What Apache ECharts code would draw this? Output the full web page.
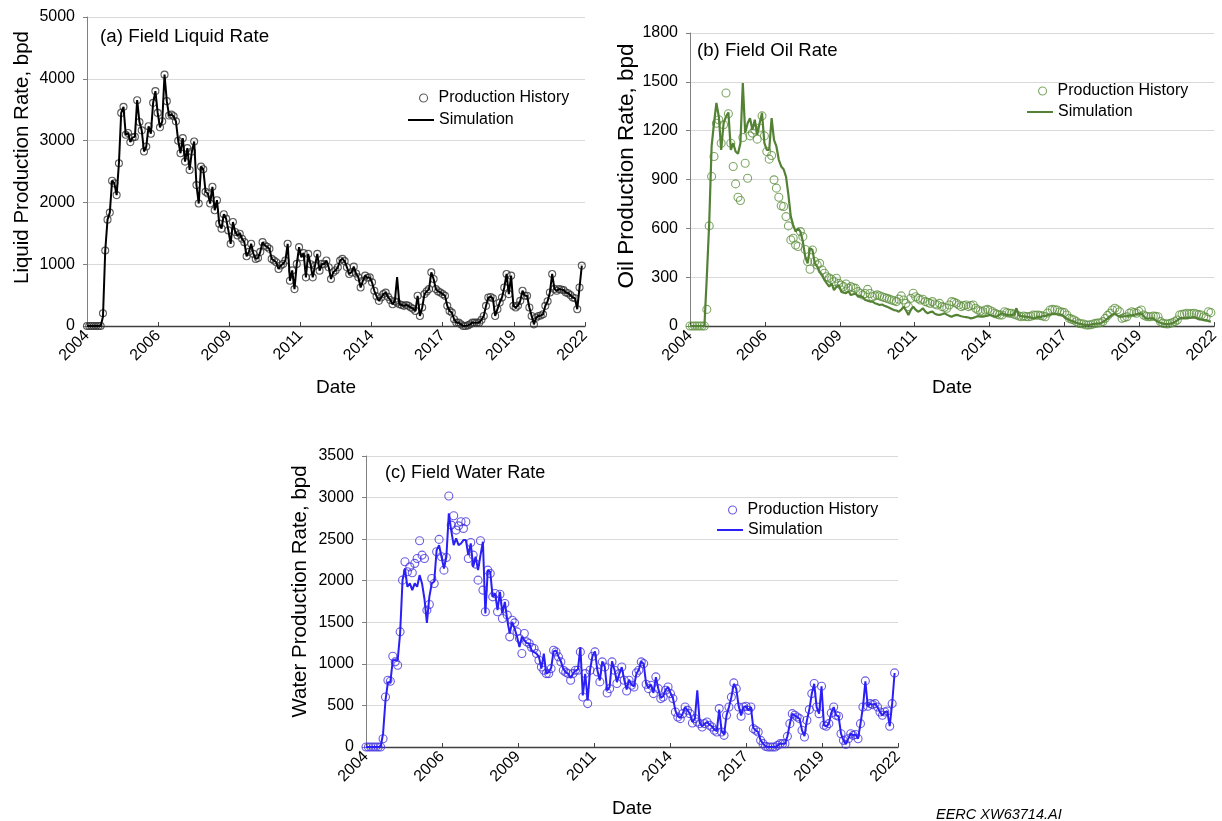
<!DOCTYPE html>
<html><head><meta charset="utf-8">
<script src="https://cdn.jsdelivr.net/npm/echarts@6/dist/echarts.min.js"></script>
<style>html,body{margin:0;padding:0;background:#fff}#c{width:1222px;height:821px}</style>
</head><body><div id="c"></div>
<script>
// ---------- DATA (monthly, month 0 = Jan 2004) ----------
const xTickLabels = ['2004','2006','2009','2011','2014','2017','2019','2022'];
const monthsPerTick = 31.2;

const liquidHistory = [0,0,0,0,0,0,0,
206,1222,1721,1835,2351,2308,2118,2634,3448,3546,
3095,3122,2976,3052,3060,3654,3301,3166,2824,2905,
3231,3111,3611,3801,3448,3215,3312,4067,3638,3405,
3420,3394,3312,2997,2796,3040,2660,2878,2525,2824,
2986,2280,1982,2579,2536,2172,2145,1982,2253,1873,
2036,1656,1575,1808,1738,1547,1330,1683,1520,1466,
1493,1412,1357,1129,1200,1330,1167,1086,1100,1200,
1357,1303,1280,1249,1086,1060,1032,923,980,1005,
1059,1330,733,900,597,1005,1276,1113,1180,787,
1167,1000,787,977,1167,896,1005,1000,1059,950,
760,869,900,950,1059,1086,1050,950,842,869,
961,850,787,624,733,815,780,787,706,570,
480,407,462,516,540,472,420,353,400,380,
353,340,326,340,326,300,280,244,489,163,
300,516,560,597,869,760,597,560,543,516,
489,326,244,217,109,54,54,27,0,0,
10,27,54,54,54,54,100,163,326,462,
470,450,163,272,380,462,624,842,516,815,
326,299,330,407,570,489,489,300,163,27,
136,163,170,190,326,400,543,842,600,570,
597,590,580,543,530,500,462,450,272,624,
977];

const liquidSimulation = [0,0,0,0,0,0,0,
150,1222,1721,1835,2351,2308,2118,2634,3448,3546,
3095,3122,2976,3052,3060,3654,3301,3166,2824,2905,
3231,3111,3611,3801,3448,3215,3312,4067,3638,3405,
3420,3394,3312,2997,2796,3040,2660,2878,2525,2824,
2986,2280,1982,2579,2536,2172,2145,1982,2253,1873,
2036,1656,1575,1808,1738,1547,1330,1683,1520,1466,
1493,1412,1357,1129,1200,1330,1167,1086,1100,1200,
1357,1303,1280,1249,1086,1060,1032,923,980,1005,
1059,1330,733,900,597,1005,1276,1113,1180,787,
1167,1000,787,977,1167,896,1005,1000,1059,950,
760,869,900,950,1059,1086,1050,950,842,869,
961,850,787,624,733,815,780,787,706,570,
480,407,462,516,540,472,420,353,400,790,
353,340,326,340,326,300,280,244,489,163,
300,516,560,597,869,760,597,560,543,516,
489,326,244,217,109,54,54,27,0,0,
10,27,54,54,54,54,100,163,326,462,
470,450,163,272,380,462,624,842,516,815,
326,299,330,407,570,489,489,300,163,27,
136,163,170,190,326,400,543,842,600,570,
597,590,580,543,530,500,462,450,272,624,
977];

const oilHistory = [0,0,0,0,0,0,0,
102,615,918,1041,1246,1267,1123,1236,1431,1304,
1123,980,873,791,771,1158,1000,908,1168,1185,
1205,1148,1216,1291,1168,1072,1025,1047,898,847,
791,738,734,672,615,529,539,498,488,580,
549,470,396,349,467,396,375,385,344,324,
303,295,287,272,293,262,250,242,258,231,
242,235,231,211,200,190,200,225,200,180,
185,191,185,180,175,170,165,160,155,150,
165,185,160,139,119,170,201,180,170,160,
164,150,145,139,150,135,129,139,119,115,
109,129,150,145,139,129,119,125,129,119,
125,129,109,98,92,88,98,102,95,88,
78,72,68,68,88,82,78,78,72,68,
61,57,61,58,57,60,68,66,68,64,
61,57,80,98,102,100,98,88,85,82,
68,47,42,37,27,16,14,12,6,6,
8,12,16,18,20,27,47,65,78,98,
109,100,88,47,52,57,78,88,82,78,
90,98,68,60,57,57,61,59,57,27,
16,14,12,16,20,27,37,68,72,74,
78,74,76,78,74,70,68,57,53,88,
82];

const oilSimulation = [0,0,0,0,0,0,0,
300,631,1103,1246,1370,1287,1082,1246,1287,1312,
1082,1123,1072,1058,1123,1492,1185,1246,1277,1205,
1267,1175,1246,1308,1123,1082,1082,1277,1144,1103,
1021,980,963,918,806,672,620,580,600,580,
520,426,385,478,467,385,365,334,314,283,
262,242,262,221,240,252,211,205,201,215,
190,195,200,180,185,175,160,156,150,150,
140,135,129,132,125,119,112,105,98,95,
88,100,119,95,68,100,119,100,88,95,
109,90,78,85,88,75,70,68,72,78,
70,62,57,64,68,65,60,57,55,52,
47,50,55,61,58,57,60,64,68,62,
57,60,70,78,72,68,65,68,70,109,
65,61,59,57,55,52,47,50,57,55,
60,62,68,70,72,74,72,70,68,55,
45,37,32,27,20,15,12,8,6,6,
8,12,14,15,16,25,35,47,60,70,
74,65,57,58,60,61,64,66,68,72,
76,78,60,47,46,47,47,35,25,20,
15,12,12,14,18,25,35,47,48,47,
47,50,52,53,48,41,40,38,37,30,
27];

const waterHistory = [0,0,0,0,0,0,0,
100,602,803,791,1092,1024,983,1385,2007,2228,
2107,2167,2095,2208,2268,2481,2308,2268,1646,1714,
2027,1967,2348,2497,2288,2127,2280,3019,2669,2782,
2609,2660,2709,2629,2709,2268,2460,2308,2200,2007,
2481,1887,1626,2127,2087,1806,1846,1626,1838,1545,
1726,1586,1325,1525,1493,1385,1305,1124,1365,1264,
1244,1196,1184,1124,1044,963,923,883,883,943,
1164,1144,1084,1024,923,900,883,803,883,923,
923,1144,602,883,522,923,1092,1144,903,783,
1024,963,650,702,1024,923,763,883,963,803,
674,803,742,722,891,923,1024,1003,755,702,
742,642,843,702,582,602,682,722,642,582,
421,361,341,401,482,441,401,289,341,301,
281,241,281,301,261,241,201,181,462,181,
140,381,482,600,771,702,482,369,482,490,
441,482,221,201,181,80,40,8,0,0,
0,0,20,40,40,40,128,281,401,381,
360,341,201,120,321,450,642,763,482,401,
731,261,249,281,409,482,381,369,160,80,
32,100,160,140,150,100,281,482,795,490,
522,510,522,482,421,381,421,433,249,522,
891];

const waterSimulation = [0,0,0,0,0,0,0,
160,562,780,780,1044,1044,1044,1365,2007,2147,
1927,1967,1887,1967,1927,2067,1967,1780,1493,1806,
1967,1990,2368,2428,2288,2147,2288,2810,2600,2428,
2509,2428,2448,2489,2489,2308,2448,2167,2288,2127,
2308,2468,1606,2127,2107,1806,1846,1646,1866,1606,
1746,1525,1365,1505,1425,1325,1204,1325,1284,1250,
1244,1164,1140,1124,1084,943,1124,883,900,950,
1150,1160,1090,1030,940,900,880,830,880,920,
930,1200,620,880,560,930,1100,1150,920,800,
1030,970,680,720,1030,930,780,880,960,810,
690,810,750,730,880,930,1030,1000,760,710,
750,650,840,700,590,610,690,720,650,590,
440,370,350,400,480,440,400,300,340,682,
290,250,280,300,270,250,210,190,450,190,
150,380,480,600,760,700,490,380,480,490,
440,480,230,200,180,80,40,10,0,0,
0,0,20,40,40,40,130,280,400,380,
360,340,200,130,320,450,640,760,480,400,
730,260,250,280,410,480,380,370,160,80,
35,100,160,140,150,100,280,480,790,490,
520,510,520,480,420,380,420,430,250,520,
890];

const panelTitles = ['(a) Field Liquid Rate','(b) Field Oil Rate','(c) Field Water Rate'];
const yNames = ['Liquid Production Rate, bpd','Oil Production Rate, bpd','Water Production Rate, bpd'];
const yMax = [5000, 1800, 3500];
const yStep = [1000, 300, 500];
const historySets = [liquidHistory, oilHistory, waterHistory];
const simSets = [liquidSimulation, oilSimulation, waterSimulation];

// ---------- STYLE / LAYOUT ----------
const FONT = "'Liberation Sans', Arial, sans-serif";
const grids = [
  {left:87, top:17, width:498, height:309},
  {left:690, top:33, width:528, height:293},
  {left:366, top:456, width:532, height:291}
];
const histColor = ['#333333', '#5f9140', '#4535dc'];
const simColor = ['#000000', '#548235', '#2a1ff5'];
const histSize = [7, 8, 8];
const simWidth = [2, 2.2, 2];
const yNameGap = [54, 50, 55];
const yNameFont = [20.5, 22.5, 20.5];
const yNameShift = [28, 27, 20];
const titleFont = [18.8, 18.6, 18];
const titlePos = [{left:100, top:27}, {left:697, top:41}, {left:385, top:464}];
const legendPos = [
  {cx:423, textX:438, lineLeft:408, circleTop:90, lineTop:112},
  {cx:1042, textX:1057, lineLeft:1027, circleTop:83, lineTop:104},
  {cx:732, textX:747, lineLeft:717, circleTop:502, lineTop:522}
];

const toXY = arr => arr.map((v, i) => [i, v]);

const xAxes = grids.map((g, i) => ({
  type:'value', gridIndex:i, min:0, max:monthsPerTick*7, interval:monthsPerTick,
  axisLine:{show:true, onZero:false, lineStyle:{color:'#404040', width:1.3}},
  axisTick:{show:true, inside:true, length:4, lineStyle:{color:'#404040'}},
  splitLine:{show:false},
  axisLabel:{rotate:45, fontSize:16, color:'#000', fontFamily:FONT, margin:7,
    formatter: v => xTickLabels[Math.round(v / monthsPerTick)]},
  name:'Date', nameLocation:'middle', nameGap:52,
  nameTextStyle:{fontSize:19, color:'#000', fontFamily:FONT}
}));

const yAxes = grids.map((g, i) => ({
  type:'value', gridIndex:i, min:0, max:yMax[i], interval:yStep[i],
  axisLine:{show:true, lineStyle:{color:'#808080', width:1}},
  axisTick:{show:true, length:4, lineStyle:{color:'#808080'}},
  splitLine:{show:true, lineStyle:{color:'#d9d9d9', width:1}},
  axisLabel:{fontSize:16, color:'#000', fontFamily:FONT, margin:12, formatter: v => String(v)},
  name:yNames[i], nameLocation:'middle', nameRotate:90, nameGap:yNameGap[i],
  nameTextStyle:{fontSize:yNameFont[i], color:'#000', fontFamily:FONT, padding:[0,0,0,yNameShift[i]]}
}));

const series = [];
for (let i = 0; i < 3; i++) {
  series.push({
    type:'scatter', name:'Production History', xAxisIndex:i, yAxisIndex:i,
    data:toXY(historySets[i]), symbol:'circle', symbolSize:histSize[i], silent:true, z:2,
    itemStyle:{color:'rgba(255,255,255,0)', borderColor:histColor[i], borderWidth:1.1}
  });
  series.push({
    type:'line', name:'Simulation', xAxisIndex:i, yAxisIndex:i,
    data:toXY(simSets[i]), showSymbol:false, symbol:'none', silent:true, z:3,
    lineStyle:{color:simColor[i], width:simWidth[i]}, itemStyle:{color:simColor[i]}
  });
}

const legends = [];
legendPos.forEach((p, i) => {
  legends.push({left:p.cx - 4, top:p.circleTop, padding:0, itemWidth:8, itemHeight:8,
    selectedMode:false,
    textStyle:{fontSize:16, color:'#000', fontFamily:FONT, padding:[0,0,0,p.textX - (p.cx + 9)]},
    data:[{name:'Production History', icon:'circle',
      itemStyle:{color:'#fff', borderColor:histColor[i], borderWidth:1.1}}]});
  legends.push({left:p.lineLeft, top:p.lineTop, padding:0, itemWidth:26, itemHeight:2,
    selectedMode:false, textStyle:{fontSize:16, color:'#000', fontFamily:FONT},
    data:[{name:'Simulation', icon:'rect', itemStyle:{color:simColor[i]}}]});
});

const titles = panelTitles.map((t, i) => ({
  text:t, left:titlePos[i].left, top:titlePos[i].top, padding:0,
  textStyle:{fontSize:titleFont[i], fontWeight:'normal', color:'#000', fontFamily:FONT}
}));
titles.push({text:'EERC XW63714.AI', left:936, top:807, padding:0,
  textStyle:{fontSize:14.5, fontWeight:'normal', fontStyle:'italic', color:'#000', fontFamily:FONT}});

const chart = echarts.init(document.getElementById('c'), null, {renderer:'canvas'});
chart.setOption({
  backgroundColor:'#fff', animation:false,
  textStyle:{fontFamily:FONT},
  title:titles, legend:legends, grid:grids, xAxis:xAxes, yAxis:yAxes, series:series
});
</script></body></html>
